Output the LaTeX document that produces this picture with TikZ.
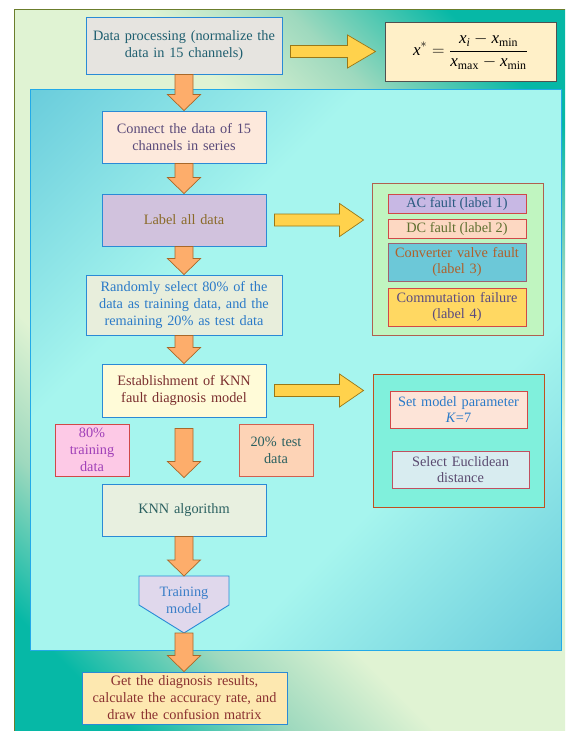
\documentclass[tikz,border=0pt]{standalone}
\usepackage{fontspec}
\setmainfont{Liberation Serif}
\usetikzlibrary{calc}

% background washes
\definecolor{outerpale}{HTML}{E0F3D3}
\definecolor{outermid}{HTML}{9ED9BE}
\definecolor{outerteal}{HTML}{06B8A6}
\definecolor{innerdeep}{HTML}{6BCDDC}
\definecolor{innerpale}{HTML}{A6F5EE}
\pgfdeclareverticalshading{outerwash}{100bp}{color(0bp)=(outerteal); color(21bp)=(outerteal); color(30bp)=(outermid); color(38bp)=(outerpale); color(62bp)=(outerpale); color(70bp)=(outermid); color(79bp)=(outerteal); color(100bp)=(outerteal)}
\pgfdeclareverticalshading{innerwash}{100bp}{color(0bp)=(innerdeep); color(15bp)=(innerdeep); color(36bp)=(innerpale); color(64bp)=(innerpale); color(85bp)=(innerdeep); color(100bp)=(innerdeep)}

% lines and arrows
\definecolor{flowblue}{HTML}{2A8AD6}
\definecolor{frameolive}{HTML}{6B7D2C}
\definecolor{innerline}{HTML}{22AAE8}
\definecolor{orangefill}{HTML}{FDAD6B}
\definecolor{orangeline}{HTML}{A8682A}
\definecolor{yellowfill}{HTML}{FFD24C}
\definecolor{yellowline}{HTML}{9A7818}

% box fills
\definecolor{fDp}{HTML}{E6E4E0}
\definecolor{fFrm}{HTML}{FFF0C8}
\definecolor{fCs}{HTML}{FDE9DC}
\definecolor{fLab}{HTML}{D1C2DD}
\definecolor{fRnd}{HTML}{E8EEDC}
\definecolor{fEst}{HTML}{FFFBD8}
\definecolor{fTr}{HTML}{FDC9E6}
\definecolor{fTe}{HTML}{FDD3B6}
\definecolor{fKnn}{HTML}{E8F0E0}
\definecolor{fTm}{HTML}{E0D8EC}
\definecolor{fRes}{HTML}{FDE8B0}
\definecolor{fGa}{HTML}{C0F5C0}
\definecolor{fAc}{HTML}{C8B8E4}
\definecolor{fDc}{HTML}{FDD8C2}
\definecolor{fCv}{HTML}{6CC8D8}
\definecolor{fCf}{HTML}{FFD862}
\definecolor{fGb}{HTML}{80F0DC}
\definecolor{fKm}{HTML}{FDE4D8}
\definecolor{fEd}{HTML}{D8ECF0}

% box borders
\definecolor{dFrm}{HTML}{505050}
\definecolor{dRed}{HTML}{D04848}
\definecolor{dTe}{HTML}{D06050}
\definecolor{dGa}{HTML}{B06050}
\definecolor{dCv}{HTML}{A06070}
\definecolor{dGb}{HTML}{C05020}
\definecolor{dEd}{HTML}{C05060}

% text colours
\definecolor{tDp}{HTML}{1F5F70}
\definecolor{tCs}{HTML}{5A4A7A}
\definecolor{tLab}{HTML}{8A6A28}
\definecolor{tBlue}{HTML}{2A7AC8}
\definecolor{tEst}{HTML}{7A2E2E}
\definecolor{tTr}{HTML}{A040B8}
\definecolor{tTeal}{HTML}{2A6060}
\definecolor{tTm}{HTML}{3A7EC8}
\definecolor{tRes}{HTML}{8A3030}
\definecolor{tAc}{HTML}{2A5A80}
\definecolor{tDc}{HTML}{607030}
\definecolor{tCv}{HTML}{B0602A}
\definecolor{tCf}{HTML}{5A4A80}
\definecolor{tEd}{HTML}{5A4A70}

% vertical block arrow: body starts at #1, tip at #2
\newcommand\flowdown[2]{%
  \path[orangearrow] let \p1=(#1), \p2=(#2) in
    (\x1-9pt,\y1) -- (\x1+9pt,\y1) -- (\x1+9pt,\y2+16pt) -- (\x1+16.5pt,\y2+16pt)
    -- (\x1,\y2) -- (\x1-16.5pt,\y2+16pt) -- (\x1-9pt,\y2+16pt) -- cycle;}
% horizontal block arrow: body starts at #1, tip at #2, head length #3
\newcommand\flowright[3]{%
  \path[yellowarrow] let \p1=(#1), \p2=(#2) in
    (\x1,\y1+6pt) -- (\x2-#3,\y1+6pt) -- (\x2-#3,\y1+16.5pt) -- (\x2,\y1)
    -- (\x2-#3,\y1-16.5pt) -- (\x2-#3,\y1-6pt) -- (\x1,\y1-6pt) -- cycle;}

\begin{document}
\begin{tikzpicture}[x=1pt,y=-1pt,
  every node/.style={font=\fontsize{14.3}{17}\selectfont, align=center, inner sep=0pt},
  flow/.style={draw=flowblue, line width=0.9pt},
  tag/.style={line width=0.9pt},
  tight/.style={font=\fontsize{14.3}{16.5}\selectfont},
  orangearrow/.style={fill=orangefill, draw=orangeline, line width=0.7pt, line join=miter},
  yellowarrow/.style={fill=yellowfill, draw=yellowline, line width=0.7pt, line join=miter}]
\useasboundingbox (0,0) rectangle (565,731);
\fill[white] (0,0) rectangle (565,731);

% outer panel
\shade[shading=outerwash, shading angle=-45] (14,9) rectangle (565,731);
\draw[frameolive, line width=1pt] (14,731) -- (14,9) -- (565,9);

% inner panel
\shade[shading=innerwash, shading angle=45] (30,89) rectangle (561,650);
\draw[innerline, line width=1pt] (30,89) rectangle (561,650);

% main flow
\node[flow, fill=fDp, text=tDp, minimum width=196pt, minimum height=57pt, text width=190pt]
  (dp) at (184,45.5) {Data processing (normalize the\\data in 15 channels)};
\node[draw=dFrm, line width=0.9pt, fill=fFrm, minimum width=171pt, minimum height=59pt]
  (frm) at (470.5,51.5) {\fontsize{17}{20}\selectfont$\displaystyle\mathit{x}^{*}=\frac{\mathit{x}_{\mathit{i}}-\mathit{x}_{\mathrm{min}}}{\mathit{x}_{\mathrm{max}}-\mathit{x}_{\mathrm{min}}}$};

\node[flow, fill=fCs, text=tCs, minimum width=164pt, minimum height=52pt, text width=160pt]
  (cs) at (184,137) {Connect the data of 15\\channels in series};
\node[flow, fill=fLab, text=tLab, minimum width=164pt, minimum height=52pt, text width=160pt]
  (lab) at (184,220) {Label all data};
\node[flow, fill=fRnd, text=tBlue, minimum width=196pt, minimum height=60pt, text width=192pt]
  (rnd) at (184,305) {Randomly select 80\% of the\\data as training data, and the\\remaining 20\% as test data};
\node[flow, fill=fEst, text=tEst, minimum width=164pt, minimum height=53pt, text width=160pt]
  (est) at (184,390.5) {Establishment of KNN\\fault diagnosis model};
\node[tag, draw=dRed, fill=fTr, text=tTr, minimum width=74pt, minimum height=52pt, text width=70pt]
  (tr) at (92,450) {80\%\\training\\data};
\node[tag, draw=dTe, fill=fTe, text=tTeal, minimum width=74pt, minimum height=52pt, text width=70pt]
  (te) at (276,450) {20\% test\\data};
\node[flow, fill=fKnn, text=tTeal, minimum width=164pt, minimum height=52pt, text width=160pt]
  (knn) at (184,510) {KNN algorithm};

% training model pentagon
\draw[flow, fill=fTm] (139,576) -- (229,576) -- (229,605) -- (184,633) -- (139,605) -- cycle;
\coordinate (tmtop) at (184,576);
\coordinate (tmtip) at (184,633);
\node[text=tTm] (tm) at (184,600) {Training\\model};

\node[flow, fill=fRes, text=tRes, minimum width=205pt, minimum height=52pt, text width=200pt]
  (res) at (184.5,698) {Get the diagnosis results,\\calculate the accuracy rate, and\\draw the confusion matrix};

% fault label group
\node[tag, draw=dGa, fill=fGa, minimum width=171pt, minimum height=152pt] (grpa) at (457.5,259) {};
\node[tag, draw=dRed, fill=fAc, text=tAc, minimum width=138pt, minimum height=19pt]
  (ac) at (457,203.5) {AC fault (label 1)};
\node[tag, draw=dRed, fill=fDc, text=tDc, minimum width=138pt, minimum height=19pt]
  (dc) at (457,228.5) {DC fault (label 2)};
\node[tag, tight, draw=dCv, fill=fCv, text=tCv, minimum width=138pt, minimum height=38pt, text width=136pt]
  (cv) at (457,262) {Converter valve fault\\(label 3)};
\node[tag, tight, draw=dRed, fill=fCf, text=tCf, minimum width=138pt, minimum height=38pt, text width=136pt]
  (cf) at (457,307) {Commutation failure\\(label 4)};

% model setting group
\node[tag, draw=dGb, fill=fGb, minimum width=171pt, minimum height=133pt] (grpb) at (458.5,440.5) {};
\node[tag, tight, draw=dRed, fill=fKm, text=tBlue, minimum width=137pt, minimum height=37pt, text width=134pt]
  (km) at (458.5,409.5) {Set model parameter\\\textit{K}=7};
\node[tag, tight, draw=dEd, fill=fEd, text=tEd, minimum width=137pt, minimum height=37pt, text width=134pt]
  (ed) at (460.5,469.5) {Select Euclidean\\distance};

% block arrows
\flowdown{dp.south}{cs.north}
\flowdown{cs.south}{lab.north}
\flowdown{lab.south}{rnd.north}
\flowdown{rnd.south}{est.north}
\flowdown{$(est.south)+(0,11)$}{$(knn.north)+(0,-6)$}
\flowdown{knn.south}{tmtop}
\flowdown{tmtip}{res.north}

\flowright{$(frm.west -| dp.east)+(8,0)$}{$(frm.west)+(-9,0)$}{28pt}
\flowright{$(lab.east)+(8,0)$}{$(lab.east -| grpa.west)+(-8,0)$}{24pt}
\flowright{$(est.east)+(8,0)$}{$(est.east -| grpb.west)+(-9,0)$}{24pt}
\end{tikzpicture}
\end{document}
